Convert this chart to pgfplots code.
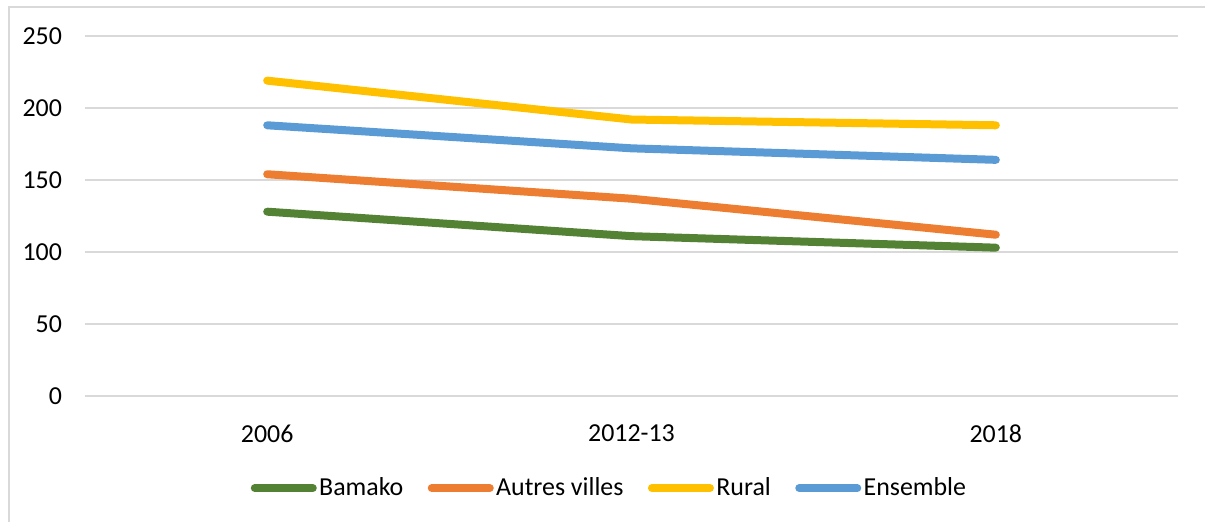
\documentclass[border=0pt]{standalone}
\usepackage{fontspec}
\setmainfont{Carlito}
\usepackage{pgfplots}
\pgfplotsset{compat=1.18}
\definecolor{cBam}{HTML}{548235}
\definecolor{cAut}{HTML}{ED7D31}
\definecolor{cRur}{HTML}{FFC000}
\definecolor{cEns}{HTML}{5B9BD5}
\definecolor{cGrid}{HTML}{D9D9D9}
\begin{document}
\fontsize{13}{15}\selectfont
\begin{tikzpicture}
\useasboundingbox (0,0) rectangle (602.5bp,261bp);
\draw[cGrid, line width=0.9bp] (4.4bp,0) -- (4.4bp,257.5bp) -- (602.5bp,257.5bp);
\begin{axis}[
  at={(42.5bp,63bp)}, anchor=south west,
  scale only axis, width=546.5bp, height=180bp,
  xmin=-0.5, xmax=2.5, ymin=0, ymax=250,
  xtick={0,1,2}, xticklabels={2006,2012-13,2018},
  ytick={0,50,100,150,200,250},
  ymajorgrids, grid style={cGrid, line width=0.9bp},
  axis x line*=bottom, axis y line*=left,
  x axis line style={cGrid, line width=0.9bp, -},
  y axis line style={draw=none},
  major tick length=0pt,
  tick style={draw=none},
  /pgf/number format/assume math mode=true,
  ticklabel style={font=\fontsize{13}{15}\selectfont, text=black},
  yticklabel style={xshift=-7bp},
  xticklabel style={yshift=-10bp},
  legend style={at={(axis description cs:0.480,-0.256)}, anchor=center, draw=none,
    legend columns=4, font=\fontsize{13}{15}\selectfont,
    nodes={inner xsep=1.2bp},
    /tikz/every even column/.append style={column sep=11bp}},
  legend cell align=left,
  legend image code/.code={\draw[#1, line cap=round] (0bp,0bp) -- (29bp,0bp);},
  every axis plot/.append style={line width=4bp, line cap=round, line join=round},
]
\addplot[cBam] coordinates {(0,128) (1,111) (2,103)};
\addlegendentry{Bamako}
\addplot[cAut] coordinates {(0,154) (1,137) (2,112)};
\addlegendentry{Autres villes}
\addplot[cRur] coordinates {(0,219) (1,192) (2,188)};
\addlegendentry{Rural}
\addplot[cEns] coordinates {(0,188) (1,172) (2,164)};
\addlegendentry{Ensemble}
\end{axis}
\end{tikzpicture}
\end{document}
